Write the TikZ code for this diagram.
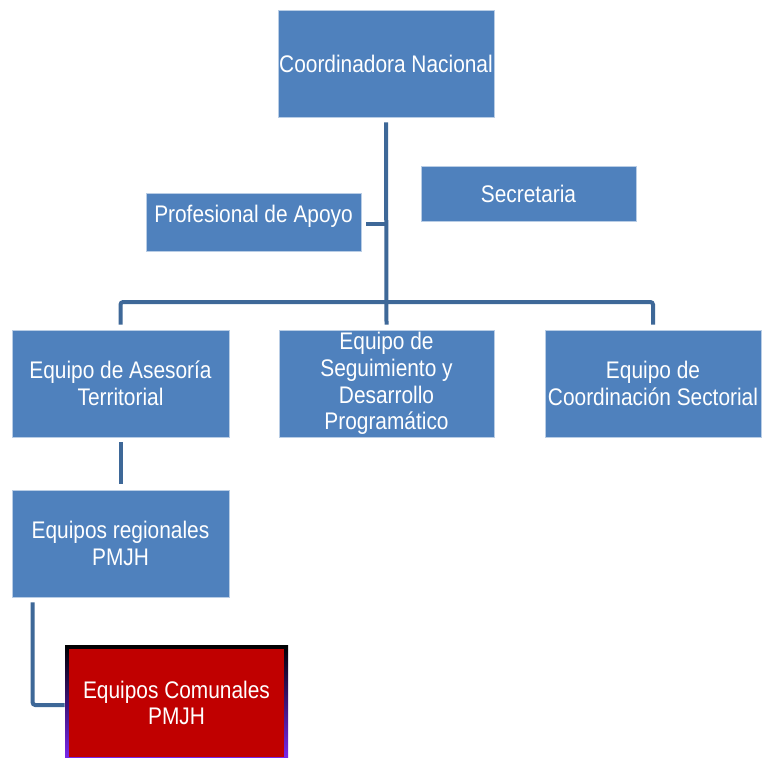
\documentclass[tikz,border=0pt]{standalone}
\usepackage{fontspec}
\setmainfont[FakeStretch=0.87]{Liberation Sans}
\usetikzlibrary{calc}
\definecolor{boxblue}{RGB}{79,129,189}
\definecolor{linkblue}{RGB}{62,104,152}
\definecolor{comred}{RGB}{192,0,0}
\definecolor{edgepurple}{RGB}{120,40,230}
\definecolor{edgenavy}{RGB}{0,0,70}
\begin{document}
\begin{tikzpicture}[x=0.75pt,y=-0.75pt,
 box/.style={fill=boxblue, draw=boxblue!40!white, line width=0.6pt, text=white, align=center, inner sep=0pt, font=\fontsize{18}{20}\selectfont},
 conn/.style={draw=linkblue, line width=3pt, rounded corners=2pt}]
\useasboundingbox[fill=white] (0,0) rectangle (762,757);
% boxes
\node[box, minimum width=162pt, minimum height=80.25pt] (coord) at (386,63.5) {Coordinadora Nacional};
\node[box, minimum width=161.25pt, minimum height=41.25pt] (secr) at (528.5,193.5) {Secretaria};
\node[box, minimum width=161.25pt, minimum height=43.5pt, text height=12pt, text depth=12pt] (prof) at (253.5,222) {Profesional de Apoyo};
\node[box, minimum width=162.75pt, minimum height=80.25pt] (ases) at (120.5,383.5) {Equipo de Asesoría\\Territorial};
\node[box, minimum width=161.25pt, minimum height=80.25pt] (segu) at (386.5,383.5) {Equipo de\\Seguimiento y\\Desarrollo\\Programático};
\node[box, minimum width=162pt, minimum height=80.25pt] (sect) at (653,383.5) {Equipo de\\Coordinación Sectorial};
\node[box, minimum width=162.75pt, minimum height=80.25pt] (regi) at (120.5,543.5) {Equipos regionales\\PMJH};
% comunales box with shaded frame
\shade[top color=black, middle color=edgenavy, bottom color=edgepurple] (65,645) rectangle (288,757);
\node[box, fill=comred, draw=none, minimum width=161.25pt, minimum height=81pt] (comu) at (176.5,703) {Equipos Comunales\\PMJH};
% connectors
\coordinate (bus) at (386,302);
\draw[conn] ($(coord.south)+(0,5)$) -- ($(segu.north)+(0,-5)$);
\draw[conn] ($(ases.north)+(0,-5)$) |- (bus) -| ($(sect.north)+(0,-5)$);
\draw[conn] ($(prof.east)+(5,2)$) -- ($(prof.east)+(25,2)$);
\draw[conn] ($(ases.south)+(0,5)$) -- ($(regi.north)+(0,-6)$);
\draw[conn] ($(regi.south west)+(21,5)$) |- ($(comu.west)+(-4,2)$);
\end{tikzpicture}
\end{document}
